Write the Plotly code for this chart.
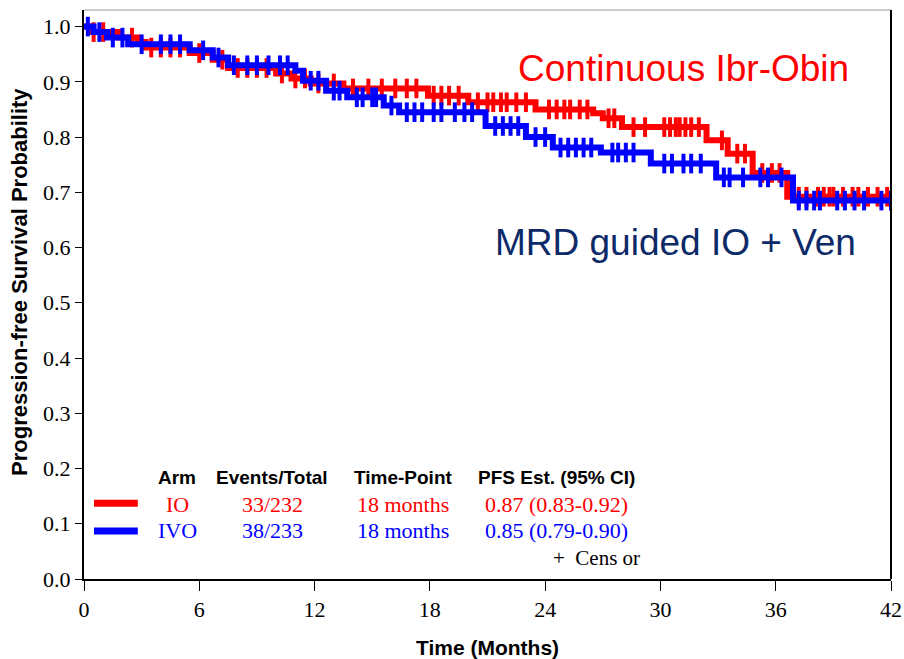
import plotly.graph_objects as go

# ---- data ----
io_step_t = [0, 0.3, 1.8, 2.8, 3.2, 5.5, 6.7, 7.5, 10.0, 10.8, 11.8, 13.5, 17.9, 20.0, 23.5, 26.5, 27.0, 28.0, 32.4, 33.5, 34.8, 36.6]
io_step_s = [1.0, 0.99, 0.98, 0.972, 0.962, 0.952, 0.94, 0.925, 0.915, 0.906, 0.897, 0.888, 0.875, 0.863, 0.85, 0.843, 0.834, 0.818, 0.794, 0.77, 0.735, 0.692]
io_censor = [0.5, 1.0, 2.5, 3.5, 4.0, 4.5, 5.0, 6.0, 7.2, 8.0, 8.5, 9.0, 9.5, 10.3, 11.0, 11.5, 12.2, 13.0,
             14.0, 14.8, 15.5, 16.2, 16.8, 17.3, 18.2, 18.6, 19.0, 19.5, 20.5, 21.0, 21.3, 21.7, 22.0, 22.5,
             23.0, 24.2, 24.6, 25.0, 25.3, 25.8, 26.2, 27.3, 27.6, 28.6, 29.2, 30.2, 30.5, 30.8, 31.0, 31.3,
             31.6, 32.0, 33.2, 34.0, 34.4, 35.3, 35.8, 36.2, 37.2, 37.6, 38.2, 38.5, 38.8, 39.0, 39.5, 40.0,
             40.3, 40.8, 41.3, 41.8]

ivo_step_t = [0, 0.5, 1.2, 2.3, 5.5, 6.7, 7.5, 11.0, 11.4, 12.6, 13.7, 15.6, 16.4, 20.9, 23.0, 24.4, 26.9, 29.5, 32.9, 36.9]
ivo_step_s = [1.0, 0.99, 0.98, 0.968, 0.957, 0.944, 0.93, 0.92, 0.902, 0.884, 0.872, 0.857, 0.845, 0.82, 0.80, 0.781, 0.772, 0.752, 0.727, 0.685]
ivo_censor = [0.2, 0.8, 1.5, 2.0, 3.0, 4.0, 4.5, 5.0, 6.2, 7.0, 7.8, 8.5, 9.0, 9.6, 10.2, 10.6, 11.8, 12.2,
              13.0, 13.3, 14.2, 14.5, 15.0, 15.2, 16.0, 16.8, 17.2, 17.6, 18.2, 18.6, 19.3, 19.8, 20.2, 21.4,
              21.8, 22.2, 22.6, 23.5, 24.0, 24.8, 25.2, 25.6, 26.0, 26.4, 27.5, 27.8, 28.2, 28.6, 30.2, 30.6,
              31.2, 31.6, 32.1, 33.3, 33.6, 34.3, 35.2, 35.6, 36.3, 37.2, 37.6, 38.0, 38.3, 39.2, 39.6, 40.1,
              40.6, 41.5, 42.0]

t_end = 42
x_ticks = [0, 6, 12, 18, 24, 30, 36, 42]
y_ticks = [0.0, 0.1, 0.2, 0.3, 0.4, 0.5, 0.6, 0.7, 0.8, 0.9, 1.0]

table_header = ["Arm", "Events/Total", "Time-Point", "PFS Est. (95% CI)"]
io_row = ["IO", "33/232", "18 months", "0.87 (0.83-0.92)"]
ivo_row = ["IVO", "38/233", "18 months", "0.85 (0.79-0.90)"]

RED = "#ff0000"
BLUE = "#0000ff"
NAVY = "#0c2a68"
SERIF = "Liberation Serif, Times New Roman, serif"
SANS = "Liberation Sans, Arial, sans-serif"


def level_at(ts, ss, t):
    v = ss[0]
    for a, b in zip(ts, ss):
        if a <= t:
            v = b
    return v


fig = go.Figure()

for ts, ss, cens, col in [(io_step_t, io_step_s, io_censor, RED), (ivo_step_t, ivo_step_s, ivo_censor, BLUE)]:
    xs = list(ts) + [t_end]
    ys = list(ss) + [ss[-1]]
    fig.add_trace(go.Scatter(x=xs, y=ys, mode="lines", line=dict(color=col, width=6, shape="hv"),
                             showlegend=False, hoverinfo="skip"))
    fig.add_trace(go.Scatter(x=cens, y=[level_at(ts, ss, c) for c in cens], mode="markers",
                             marker=dict(symbol="line-ns", size=14, line=dict(color=col, width=4)),
                             showlegend=False, hoverinfo="skip"))

# legend sample lines
fig.add_trace(go.Scatter(x=[0.52, 2.8], y=[0.137, 0.137], mode="lines", line=dict(color=RED, width=7),
                         showlegend=False, hoverinfo="skip"))
fig.add_trace(go.Scatter(x=[0.52, 2.8], y=[0.087, 0.087], mode="lines", line=dict(color=BLUE, width=7),
                         showlegend=False, hoverinfo="skip"))

col_x = [4.85, 9.8, 16.6, 24.6]
anns = []
for txt, cx in zip(table_header, col_x):
    anns.append(dict(x=cx, y=0.183, text="<b>%s</b>" % txt, showarrow=False, xref="x", yref="y",
                     font=dict(family=SANS, size=19, color="black")))
for row, yv, col in [(io_row, 0.135, RED), (ivo_row, 0.087, BLUE)]:
    for txt, cx in zip(row, col_x):
        anns.append(dict(x=cx, y=yv, text=txt, showarrow=False, xref="x", yref="y",
                         font=dict(family=SERIF, size=22, color=col)))
anns.append(dict(x=26.65, y=0.038, text="+  Cens or", showarrow=False, xref="x", yref="y",
                 font=dict(family=SERIF, size=21, color="black")))
anns.append(dict(x=31.2, y=0.925, text="Continuous Ibr-Obin", showarrow=False, xref="x", yref="y",
                 font=dict(family=SANS, size=37, color=RED)))
anns.append(dict(x=30.8, y=0.61, text="MRD guided IO + Ven", showarrow=False, xref="x", yref="y",
                 font=dict(family=SANS, size=37, color=NAVY)))
# axis titles
anns.append(dict(x=0.5006, y=-0.121, xref="paper", yref="paper", xanchor="center", yanchor="middle",
                 text="<b>Time (Months)</b>", showarrow=False, font=dict(family=SANS, size=21, color="black")))
anns.append(dict(x=-0.0793, y=0.522, xref="paper", yref="paper", xanchor="center", yanchor="middle",
                 text="<b>Progression-free Survival Probability</b>",
                 textangle=-90, showarrow=False, font=dict(family=SANS, size=22, color="black")))

fig.update_layout(
    width=904, height=659,
    margin=dict(l=84, r=13, t=10, b=80),
    paper_bgcolor="white", plot_bgcolor="white",
    annotations=anns,
    xaxis=dict(range=[0, 42], tickvals=x_ticks, ticktext=[str(v) for v in x_ticks],
               showgrid=False, zeroline=False, showline=True, linecolor="black", linewidth=2,
               ticks="outside", ticklen=10, tickwidth=1, tickcolor="black", automargin=False,
               tickfont=dict(family=SERIF, size=22, color="black")),
    yaxis=dict(range=[0, 1.03], tickvals=y_ticks, ticktext=["%.1f" % v for v in y_ticks],
               showgrid=False, zeroline=False, showline=True, linecolor="black", linewidth=2,
               ticks="outside", ticklen=7, tickwidth=1, tickcolor="black", automargin=False,
               tickfont=dict(family=SERIF, size=22, color="black")),
    shapes=[
        dict(type="line", xref="paper", yref="paper", x0=0, x1=1, y0=1, y1=1, line=dict(color="#999999", width=1)),
        dict(type="line", xref="paper", yref="paper", x0=1, x1=1, y0=0, y1=1, line=dict(color="black", width=2)),
    ],
)

fig.write_html("out.html")
